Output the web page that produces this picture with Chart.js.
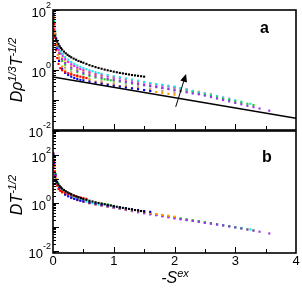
<!DOCTYPE html>
<html>
<head>
<meta charset="utf-8">
<script src="https://cdn.jsdelivr.net/npm/chart.js@4.4.0/dist/chart.umd.min.js"></script>
<style>
html, body { margin: 0; padding: 0; background: #fff; }
#wrap { position: relative; width: 302px; height: 288px; }
#wrap canvas { position: absolute; left: 0; top: 0; }
</style>
</head>
<body>
<div id="wrap">
  <canvas id="chartA" width="302" height="288"></canvas>
  <canvas id="chartB" width="302" height="288"></canvas>
</div>
<script>
// -s^ex values and reduced diffusion for each state point series
const sExBlack = [0.03,0.05,0.07,0.09,0.11,0.13,0.15,0.18,0.21,0.24,0.27,0.3,0.34,0.38,0.42,0.46,0.5,0.55,0.6,0.65,0.7,0.75,0.8,0.85,0.9,0.95,1.0,1.05,1.1,1.15,1.2,1.25,1.3,1.35,1.4,1.45,1.5];
const aBlack = [14,11,8.8,7.3,6.2,5.4,4.8,4.1,3.6,3.2,2.9,2.65,2.4,2.2,2.0,1.87,1.75,1.6,1.45,1.35,1.25,1.17,1.1,1.03,0.98,0.93,0.88,0.84,0.8,0.77,0.74,0.71,0.68,0.66,0.64,0.62,0.6];
const bBlack = [12,9,7.2,6.0,5.1,4.5,4.0,3.5,3.1,2.8,2.55,2.35,2.1,1.9,1.75,1.6,1.48,1.36,1.25,1.16,1.08,1.01,0.95,0.89,0.84,0.79,0.74,0.7,0.66,0.63,0.6,0.57,0.54,0.51,0.49,0.465,0.44];

const sExRed = [0.005,0.01,0.015,0.02,0.03,0.04,0.05,0.07,0.09,0.12,0.15,0.2,0.25,0.3,0.35,0.4,0.45,0.5,0.55];
const aRed = [90,55,35,22,12,7,4.5,2.5,1.6,1.15,0.98,0.85,0.78,0.72,0.67,0.63,0.6,0.57,0.54];
const bRed = [120,82,56,38,21,13.5,9,5.3,3.8,3.2,2.9,2.7,2.4,2.2,2.0,1.85,1.72,1.6,1.5];

const sExOrange = [0.01,0.02,0.03,0.05,0.08,0.1,0.15,0.2,0.3,0.4,0.5,0.6,0.7,0.8,0.9,1.0,1.1,1.2,1.3,1.4,1.5,1.6,1.7,1.8,1.9,2.0];
const aOrange = [60,30,16,7,3.2,2.2,1.3,0.95,0.72,0.6,0.52,0.46,0.41,0.37,0.34,0.31,0.29,0.27,0.25,0.23,0.215,0.2,0.185,0.17,0.16,0.15];
const bOrange = [90,34,19,10,5.3,3.9,2.7,2.2,1.6,1.3,1.12,0.98,0.87,0.79,0.72,0.66,0.6,0.55,0.5,0.46,0.42,0.38,0.35,0.32,0.295,0.27];

const sExBlue = [0.01,0.02,0.04,0.06,0.1,0.15,0.2,0.25,0.3,0.35,0.4,0.45,0.5,0.6,0.7,0.8,0.9,1.0,1.1,1.2,1.3,1.4,1.5,1.6];
const aBlue = [70,35,12,5,2.0,1.1,0.8,0.68,0.6,0.54,0.5,0.47,0.45,0.41,0.38,0.35,0.32,0.3,0.28,0.26,0.245,0.23,0.215,0.2];
const bBlue = [105,45,15,7.5,4.1,2.9,2.25,1.9,1.65,1.48,1.35,1.25,1.16,1.03,0.94,0.85,0.77,0.71,0.65,0.6,0.55,0.5,0.46,0.43];

const sExGreen = [0.02,0.04,0.07,0.1,0.15,0.2,0.3,0.4,0.5,0.6,0.7,0.8,0.85,0.9,0.95,1.0,1.1,1.2,1.3,1.4,1.5,1.6,1.7,1.8,1.9,2.0,2.1,2.2,2.3,2.4,2.5,2.6,2.7,2.8,2.9,3.0,3.1,3.2,3.3];
const aGreen = [40,15,6,3.5,2.0,1.5,1.05,0.85,0.72,0.63,0.56,0.51,0.49,0.47,0.455,0.44,0.41,0.38,0.355,0.33,0.31,0.29,0.27,0.25,0.235,0.22,0.205,0.19,0.175,0.16,0.148,0.135,0.122,0.11,0.1,0.09,0.082,0.075,0.068];
const bGreen = [41,16.5,6.8,4.5,3.2,2.6,1.95,1.58,1.3,1.12,1.0,0.94,0.9,0.86,0.81,0.76,0.67,0.6,0.53,0.48,0.43,0.375,0.34,0.31,0.28,0.255,0.23,0.21,0.193,0.176,0.16,0.146,0.133,0.12,0.109,0.098,0.089,0.081,0.073];

const sExCyan = [0.02,0.04,0.06,0.08,0.1,0.13,0.16,0.2,0.25,0.3,0.35,0.4,0.45,0.5,0.55,0.6,0.65,0.7,0.75,0.8,0.9,1.0,1.1,1.2,1.3,1.4,1.5,1.6,1.7,1.8,1.9,2.0,2.1,2.2,2.3,2.4,2.5,2.6,2.7,2.8,2.9,3.0,3.1,3.25];
const aCyan = [45,20,11,7.5,5.5,4.2,3.4,2.7,2.2,1.85,1.6,1.42,1.28,1.16,1.06,0.98,0.91,0.85,0.8,0.75,0.68,0.62,0.57,0.52,0.48,0.44,0.4,0.37,0.34,0.32,0.3,0.28,0.25,0.22,0.2,0.18,0.165,0.15,0.135,0.12,0.108,0.098,0.088,0.075];
const bCyan = [37,16,9.5,6.8,5.2,4.1,3.4,2.8,2.3,1.95,1.72,1.52,1.38,1.26,1.15,1.06,0.98,0.92,0.86,0.81,0.72,0.65,0.58,0.52,0.47,0.43,0.39,0.35,0.32,0.29,0.265,0.24,0.22,0.2,0.185,0.17,0.155,0.142,0.13,0.12,0.11,0.1,0.092,0.08];

const sExMagenta = [0.02,0.04,0.06,0.08,0.1,0.13,0.16,0.2,0.25,0.3,0.35,0.4,0.45,0.5,0.6,0.7,0.8,0.9,1.0,1.1,1.2,1.3,1.4,1.5,1.6,1.7,1.8,1.9,2.0,2.1,2.2,2.3,2.4,2.5,2.6,2.7,2.8,2.9];
const aMagenta = [35,16,9,6.2,4.6,3.5,2.9,2.3,1.85,1.55,1.36,1.2,1.08,0.98,0.84,0.74,0.67,0.61,0.56,0.52,0.48,0.44,0.41,0.38,0.35,0.32,0.3,0.28,0.26,0.24,0.22,0.2,0.18,0.165,0.15,0.135,0.12,0.11];
const bMagenta = [34,15,8.5,6.2,4.8,3.8,3.1,2.55,2.1,1.8,1.58,1.42,1.29,1.18,1.0,0.88,0.78,0.7,0.63,0.57,0.52,0.47,0.43,0.39,0.35,0.32,0.29,0.265,0.24,0.22,0.2,0.185,0.17,0.155,0.14,0.13,0.12,0.11];

const sExYellow = [0.03,0.06,0.1,0.15,0.2,0.3,0.4,0.5,0.6,0.7,0.8,1.0,1.2,1.4,1.6,1.8,2.0,2.2,2.4,2.6];
const aYellow = [20,7,3.8,2.5,1.85,1.3,1.05,0.9,0.79,0.7,0.64,0.54,0.46,0.4,0.35,0.3,0.26,0.22,0.19,0.16];
const bYellow = [21,8.2,4.6,3.2,2.55,1.88,1.5,1.24,1.06,0.94,0.82,0.65,0.52,0.435,0.35,0.29,0.24,0.2,0.17,0.142];

const sExPurple = [0.02,0.04,0.07,0.1,0.15,0.2,0.3,0.4,0.5,0.6,0.7,0.8,0.9,1.0,1.1,1.2,1.3,1.4,1.5,1.6,1.7,1.8,1.9,2.0,2.1,2.2,2.3,2.4,2.5,2.6,2.7,2.8,2.9,3.0,3.1,3.2,3.3,3.4,3.56];
const aPurple = [30,12,5.5,3.6,2.3,1.7,1.2,0.95,0.8,0.7,0.62,0.56,0.51,0.47,0.43,0.4,0.37,0.34,0.315,0.29,0.27,0.25,0.23,0.21,0.195,0.18,0.165,0.155,0.14,0.125,0.112,0.1,0.09,0.08,0.072,0.064,0.058,0.052,0.044];
const bPurple = [30,12,5.6,4.1,2.9,2.3,1.72,1.42,1.18,1.0,0.88,0.79,0.7,0.63,0.57,0.51,0.46,0.41,0.37,0.34,0.31,0.28,0.255,0.23,0.21,0.195,0.18,0.165,0.15,0.139,0.127,0.116,0.106,0.096,0.087,0.078,0.071,0.064,0.054];

const sExTan = [0.03,0.06,0.1,0.2,0.3,0.4,0.5,0.6,0.8,1.0,1.2,1.4,1.6,1.8,2.0];
const aTan = [18,5.5,2.6,1.2,0.85,0.68,0.58,0.51,0.42,0.36,0.31,0.27,0.23,0.2,0.175];
const bTan = [18,6.8,4.1,2.4,1.8,1.46,1.2,1.05,0.81,0.64,0.52,0.435,0.35,0.29,0.24];

const sExPink = [0.03,0.06,0.1,0.2,0.3,0.4,0.5,0.6,0.8,1.0,1.2,1.4,1.6,1.8,2.0,2.2];
const aPink = [25,9,4.5,2.1,1.5,1.2,1.0,0.88,0.72,0.6,0.5,0.42,0.36,0.31,0.27,0.23];
const bPink = [19.5,7.1,4.35,2.5,1.8,1.46,1.2,1.05,0.8,0.64,0.52,0.43,0.345,0.285,0.235,0.195];

// Rosenfeld scaling line (panel a) and the arrow
const lineX = [0, 4];
const lineY = [0.585, 0.0248];
const arrowX = [2.02, 2.19];
const arrowY = [0.059, 0.74];

const xTickValues = [0.5, 1, 1.5, 2, 2.5, 3, 3.5];
const xTickLabels = [0, 1, 2, 3, 4];
const yLabelExps = [-2, 0, 2];

const series = [
    { color: '#000000', x: sExBlack, a: aBlack, b: bBlack },
    { color: '#ff0000', x: sExRed, a: aRed, b: bRed },
    { color: '#0000ff', x: sExBlue, a: aBlue, b: bBlue },
    { color: '#ff9900', x: sExOrange, a: aOrange, b: bOrange },
    { color: '#9933ee', x: sExPurple, a: aPurple, b: bPurple },
    { color: '#22cc22', x: sExGreen, a: aGreen, b: bGreen },
    { color: '#22e0e0', x: sExCyan, a: aCyan, b: bCyan },
    { color: '#ee22ee', x: sExMagenta, a: aMagenta, b: bMagenta },
    { color: '#f0e000', x: sExYellow, a: aYellow, b: bYellow },
    { color: '#cc9966', x: sExTan, a: aTan, b: bTan },
    { color: '#ff99bb', x: sExPink, a: aPink, b: bPink }
];

const fontName = '"Liberation Sans", Arial, sans-serif';

function drawParts(ctx, parts, cx, y) {
    let total = 0;
    parts.forEach(p => {
        ctx.font = p.sup ? 'italic 11px ' + fontName : 'italic 16px ' + fontName;
        p.w = ctx.measureText(p.t).width;
        total += p.w;
    });
    let cur = cx - total / 2;
    ctx.textAlign = 'left';
    ctx.textBaseline = 'alphabetic';
    parts.forEach(p => {
        ctx.font = p.sup ? 'italic 11px ' + fontName : 'italic 16px ' + fontName;
        ctx.fillText(p.t, cur, p.sup ? y - 6 : y);
        cur += p.w;
    });
}

const framePlugin = {
    id: 'frame',
    afterDatasetsDraw(chart, args, opts) {
        const ctx = chart.ctx;
        const a = chart.chartArea;
        const xs = chart.scales.x;
        const ys = chart.scales.y;
        ctx.save();
        ctx.strokeStyle = '#000';
        ctx.fillStyle = '#000';

        // inward ticks
        ctx.lineWidth = 1;
        ctx.beginPath();
        xTickValues.forEach(v => {
            const px = Math.round(xs.getPixelForValue(v)) + 0.5;
            const len = Number.isInteger(v) ? 6 : 4;
            ctx.moveTo(px, a.bottom);
            ctx.lineTo(px, a.bottom - len);
        });
        const eMin = Math.floor(Math.log10(ys.min));
        const eMax = Math.ceil(Math.log10(ys.max));
        for (let e = eMin; e <= eMax; e++) {
            for (let m = 1; m <= 9; m++) {
                const v = m * Math.pow(10, e);
                if (v < ys.min || v > ys.max) continue;
                const py = Math.round(ys.getPixelForValue(v)) + 0.5;
                const len = m === 1 ? 6 : 3;
                ctx.moveTo(a.left, py);
                ctx.lineTo(a.left + len, py);
            }
        }
        ctx.stroke();

        ctx.lineWidth = 1.6;
        ctx.strokeRect(a.left, a.top, a.right - a.left, a.bottom - a.top);

        // y tick labels 10^n
        yLabelExps.forEach(e => {
            const py = ys.getPixelForValue(Math.pow(10, e));
            const sup = String(e);
            ctx.textAlign = 'left';
            ctx.textBaseline = 'alphabetic';
            ctx.font = '9px ' + fontName;
            const ws = ctx.measureText(sup).width;
            ctx.fillText(sup, a.left - 2 - ws, py - 2);
            ctx.font = '13px ' + fontName;
            const wb = ctx.measureText('10').width;
            ctx.fillText('10', a.left - 2 - ws - wb, py + 7);
        });

        if (opts.xLabels) {
            ctx.font = '13px ' + fontName;
            ctx.textAlign = 'center';
            xTickLabels.forEach(v => {
                ctx.fillText(String(v), xs.getPixelForValue(v), a.bottom + 12);
            });
            drawParts(ctx, [{ t: '-S' }, { t: 'ex', sup: true }], 175, 283);
        }

        // rotated y title
        ctx.save();
        ctx.translate(22, (a.top + a.bottom) / 2 + opts.titleShift);
        ctx.rotate(-Math.PI / 2);
        drawParts(ctx, opts.title, 0, 0);
        ctx.restore();

        ctx.font = 'bold 16px ' + fontName;
        ctx.textAlign = 'left';
        ctx.fillText(opts.letter, opts.letterX, a.top + opts.letterY);

        if (opts.arrow) {
            const x0 = xs.getPixelForValue(arrowX[0]), y0 = ys.getPixelForValue(arrowY[0]);
            const x1 = xs.getPixelForValue(arrowX[1]), y1 = ys.getPixelForValue(arrowY[1]);
            const ang = Math.atan2(y1 - y0, x1 - x0);
            ctx.lineWidth = 1;
            ctx.beginPath();
            ctx.moveTo(x0, y0);
            ctx.lineTo(x1 - 5 * Math.cos(ang), y1 - 5 * Math.sin(ang));
            ctx.stroke();
            ctx.beginPath();
            ctx.moveTo(x1, y1);
            ctx.lineTo(x1 - 8 * Math.cos(ang) + 3.5 * Math.sin(ang), y1 - 8 * Math.sin(ang) - 3.5 * Math.cos(ang));
            ctx.lineTo(x1 - 8 * Math.cos(ang) - 3.5 * Math.sin(ang), y1 - 8 * Math.sin(ang) + 3.5 * Math.cos(ang));
            ctx.closePath();
            ctx.fill();
        }
        ctx.restore();
    }
};

function pointSets(key) {
    return series.map(s => ({
        data: s.x.map((v, i) => ({ x: v, y: s[key][i] })),
        backgroundColor: s.color,
        borderWidth: 0,
        pointStyle: 'rect',
        pointRadius: 1.5,
        showLine: false
    }));
}

function makeChart(id, datasets, yMin, yMax, padding, frame) {
    return new Chart(document.getElementById(id), {
        type: 'scatter',
        data: { datasets: datasets },
        options: {
            responsive: false,
            animation: false,
            events: [],
            layout: { padding: padding },
            plugins: {
                legend: { display: false },
                tooltip: { enabled: false },
                frame: frame
            },
            scales: {
                x: { type: 'linear', min: 0, max: 4, display: false },
                y: { type: 'logarithmic', min: yMin, max: yMax, display: false }
            }
        },
        plugins: [framePlugin]
    });
}

document.addEventListener('DOMContentLoaded', function() {
    const lineSet = {
        data: lineX.map((v, i) => ({ x: v, y: lineY[i] })),
        showLine: true,
        borderColor: '#000',
        borderWidth: 1.5,
        pointRadius: 0
    };
    makeChart('chartA', [lineSet].concat(pointSets('a')), 0.01, 100,
        { left: 53, right: 6, top: 10, bottom: 158 },
        {
            title: [{ t: 'D' }, { t: 'ρ' }, { t: '1/3', sup: true }, { t: 'T' }, { t: '-1/2', sup: true }],
            titleShift: 0, letter: 'a', letterX: 260, letterY: 23, arrow: true, xLabels: false
        });
    makeChart('chartB', pointSets('b'), 0.0083, 1000,
        { left: 53, right: 6, top: 131, bottom: 35 },
        {
            title: [{ t: 'D' }, { t: 'T' }, { t: '-1/2', sup: true }],
            titleShift: 3, letter: 'b', letterX: 262, letterY: 31, arrow: false, xLabels: true
        });
});
</script>
</body>
</html>
